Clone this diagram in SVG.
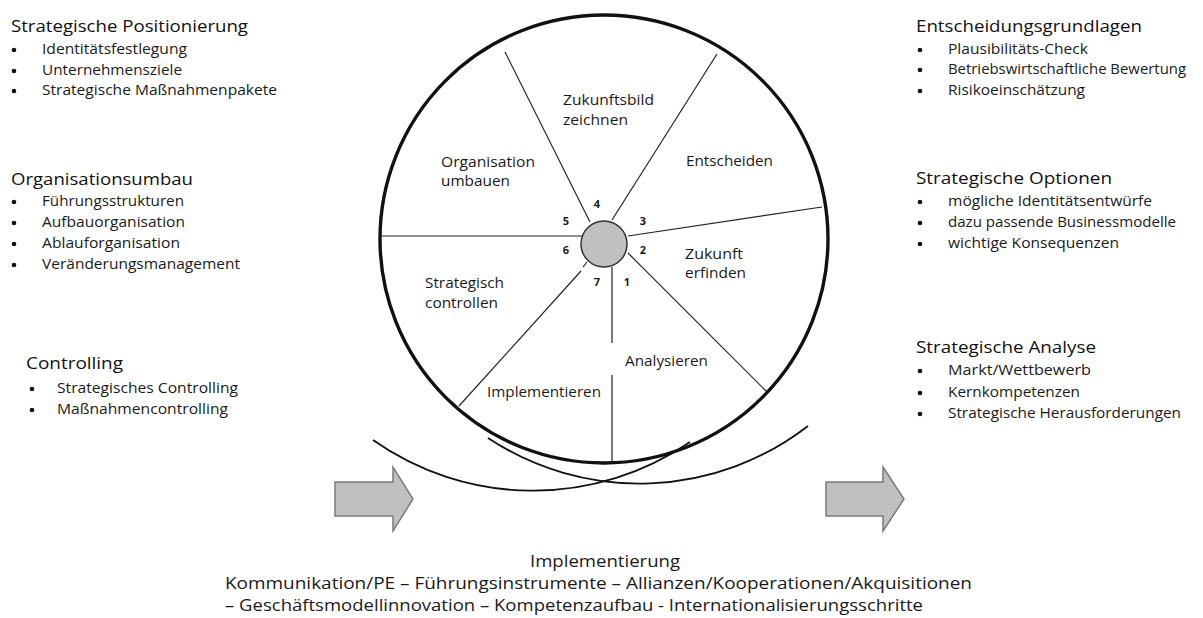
<svg xmlns="http://www.w3.org/2000/svg" width="1203" height="618" viewBox="0 0 1203 618">
<style>
text{font-family:"Open Sans","Noto Sans","DejaVu Sans",sans-serif;fill:#1a1a1a}
.h{font-size:16.5px;font-weight:500;fill:#111}
.i{font-size:14.5px}
.w{font-size:14px}
.n{font-size:11px;font-weight:bold;text-anchor:middle}
.b{font-size:16.5px}
.bul{fill:#111}
.spk{stroke:#222;stroke-width:1.2;fill:none}
.arc{stroke:#111;stroke-width:1.8;fill:none}
.arr{fill:#c0c0c0;stroke:#7a7a7a;stroke-width:1.5}
</style>
<rect width="1203" height="618" fill="#fff"/>

<g id="connectors">
<path class="arc" d="M373 440 A277.8 277.8 0 0 0 690 442"/>
<path class="arc" d="M488 438 A275 275 0 0 0 808 426"/>
<polygon class="arr" points="335,482 393,482 393,467 413,499 393,531 393,516 335,516"/>
<polygon class="arr" points="826,482 883,482 883,467 904,499 883,531 883,516 826,516"/>
</g>

<g id="wheel">
<circle cx="604" cy="239" r="224" fill="none" stroke="#111" stroke-width="3.4"/>
<line class="spk" x1="505" y1="52" x2="590" y2="222"/>
<line class="spk" x1="717" y1="54" x2="612" y2="220"/>
<line class="spk" x1="822" y1="207" x2="628" y2="236"/>
<line class="spk" x1="628" y1="253" x2="766" y2="391"/>
<line class="spk" x1="612" y1="267" x2="612" y2="343"/>
<line class="spk" x1="612" y1="375" x2="612" y2="463"/>
<line class="spk" x1="459" y1="406" x2="581" y2="271"/>
<line class="spk" x1="583" y1="267" x2="587" y2="262"/>
<line class="spk" x1="381" y1="236" x2="582" y2="236"/>
<circle id="hub" cx="604" cy="244" r="23" fill="#c0c0c0" stroke="#333" stroke-width="1.5"/>
<text class="n" x="597" y="208">4</text>
<text class="n" x="566" y="225">5</text>
<text class="n" x="643" y="225">3</text>
<text class="n" x="566" y="254">6</text>
<text class="n" x="643" y="254">2</text>
<text class="n" x="597" y="286">7</text>
<text class="n" x="627" y="286">1</text>
</g>

<g id="seg-zukunftsbild"><text class="w" x="563" y="105" textLength="91" lengthAdjust="spacingAndGlyphs">Zukunftsbild</text><text class="w" x="563" y="125" textLength="65" lengthAdjust="spacingAndGlyphs">zeichnen</text></g>
<g id="seg-organisation"><text class="w" x="441" y="167" textLength="94" lengthAdjust="spacingAndGlyphs">Organisation</text><text class="w" x="441" y="186" textLength="69" lengthAdjust="spacingAndGlyphs">umbauen</text></g>
<g id="seg-entscheiden"><text class="w" x="686" y="166" textLength="87" lengthAdjust="spacingAndGlyphs">Entscheiden</text></g>
<g id="seg-zukunft"><text class="w" x="685" y="259" textLength="58" lengthAdjust="spacingAndGlyphs">Zukunft</text><text class="w" x="685" y="278" textLength="61" lengthAdjust="spacingAndGlyphs">erfinden</text></g>
<g id="seg-controllen"><text class="w" x="425" y="288" textLength="79" lengthAdjust="spacingAndGlyphs">Strategisch</text><text class="w" x="425" y="308" textLength="73" lengthAdjust="spacingAndGlyphs">controllen</text></g>
<g id="seg-analysieren"><text class="w" x="625" y="366" textLength="83" lengthAdjust="spacingAndGlyphs">Analysieren</text></g>
<g id="seg-implementieren"><text class="w" x="487" y="397" textLength="114" lengthAdjust="spacingAndGlyphs">Implementieren</text></g>

<g id="box-positionierung">
<text class="h" x="11" y="32" textLength="237" lengthAdjust="spacingAndGlyphs">Strategische Positionierung</text>
<circle class="bul" cx="14" cy="50" r="2.3"/><text class="i" x="42" y="54" textLength="145" lengthAdjust="spacingAndGlyphs">Identitätsfestlegung</text>
<circle class="bul" cx="14" cy="71" r="2.3"/><text class="i" x="42" y="75" textLength="140" lengthAdjust="spacingAndGlyphs">Unternehmensziele</text>
<circle class="bul" cx="14" cy="91" r="2.3"/><text class="i" x="42" y="95" textLength="235" lengthAdjust="spacingAndGlyphs">Strategische Maßnahmenpakete</text>
</g>

<g id="box-organisationsumbau">
<text class="h" x="11" y="185" textLength="182" lengthAdjust="spacingAndGlyphs">Organisationsumbau</text>
<circle class="bul" cx="14" cy="202" r="2.3"/><text class="i" x="42" y="206" textLength="142" lengthAdjust="spacingAndGlyphs">Führungsstrukturen</text>
<circle class="bul" cx="14" cy="223" r="2.3"/><text class="i" x="42" y="227" textLength="143" lengthAdjust="spacingAndGlyphs">Aufbauorganisation</text>
<circle class="bul" cx="14" cy="244" r="2.3"/><text class="i" x="42" y="248" textLength="138" lengthAdjust="spacingAndGlyphs">Ablauforganisation</text>
<circle class="bul" cx="14" cy="265" r="2.3"/><text class="i" x="42" y="269" textLength="198" lengthAdjust="spacingAndGlyphs">Veränderungsmanagement</text>
</g>

<g id="box-controlling">
<text class="h" x="26" y="369" textLength="97" lengthAdjust="spacingAndGlyphs">Controlling</text>
<circle class="bul" cx="32" cy="389" r="2.3"/><text class="i" x="57" y="393" textLength="181" lengthAdjust="spacingAndGlyphs">Strategisches Controlling</text>
<circle class="bul" cx="32" cy="410" r="2.3"/><text class="i" x="57" y="414" textLength="171" lengthAdjust="spacingAndGlyphs">Maßnahmencontrolling</text>
</g>

<g id="box-entscheidungsgrundlagen">
<text class="h" x="916" y="32" textLength="226" lengthAdjust="spacingAndGlyphs">Entscheidungsgrundlagen</text>
<circle class="bul" cx="920" cy="50" r="2.3"/><text class="i" x="948" y="54" textLength="140" lengthAdjust="spacingAndGlyphs">Plausibilitäts-Check</text>
<circle class="bul" cx="920" cy="70" r="2.3"/><text class="i" x="948" y="74" textLength="238" lengthAdjust="spacingAndGlyphs">Betriebswirtschaftliche Bewertung</text>
<circle class="bul" cx="920" cy="91" r="2.3"/><text class="i" x="948" y="95" textLength="137" lengthAdjust="spacingAndGlyphs">Risikoeinschätzung</text>
</g>

<g id="box-optionen">
<text class="h" x="916" y="184" textLength="196" lengthAdjust="spacingAndGlyphs">Strategische Optionen</text>
<circle class="bul" cx="920" cy="202" r="2.3"/><text class="i" x="948" y="206" textLength="204" lengthAdjust="spacingAndGlyphs">mögliche Identitätsentwürfe</text>
<circle class="bul" cx="920" cy="223" r="2.3"/><text class="i" x="948" y="227" textLength="228" lengthAdjust="spacingAndGlyphs">dazu passende Businessmodelle</text>
<circle class="bul" cx="920" cy="244" r="2.3"/><text class="i" x="948" y="248" textLength="171" lengthAdjust="spacingAndGlyphs">wichtige Konsequenzen</text>
</g>

<g id="box-analyse">
<text class="h" x="916" y="353" textLength="180" lengthAdjust="spacingAndGlyphs">Strategische Analyse</text>
<circle class="bul" cx="920" cy="371" r="2.3"/><text class="i" x="948" y="375" textLength="143" lengthAdjust="spacingAndGlyphs">Markt/Wettbewerb</text>
<circle class="bul" cx="920" cy="393" r="2.3"/><text class="i" x="948" y="397" textLength="132" lengthAdjust="spacingAndGlyphs">Kernkompetenzen</text>
<circle class="bul" cx="920" cy="414" r="2.3"/><text class="i" x="948" y="418" textLength="233" lengthAdjust="spacingAndGlyphs">Strategische Herausforderungen</text>
</g>

<g id="box-implementierung">
<text class="b" x="530" y="567" textLength="150" lengthAdjust="spacingAndGlyphs">Implementierung</text>
<text class="b" x="225" y="589" textLength="747" lengthAdjust="spacingAndGlyphs">Kommunikation/PE – Führungsinstrumente – Allianzen/Kooperationen/Akquisitionen</text>
<text class="b" x="225" y="611" textLength="698" lengthAdjust="spacingAndGlyphs">– Geschäftsmodellinnovation – Kompetenzaufbau - Internationalisierungsschritte</text>
</g>
</svg>
